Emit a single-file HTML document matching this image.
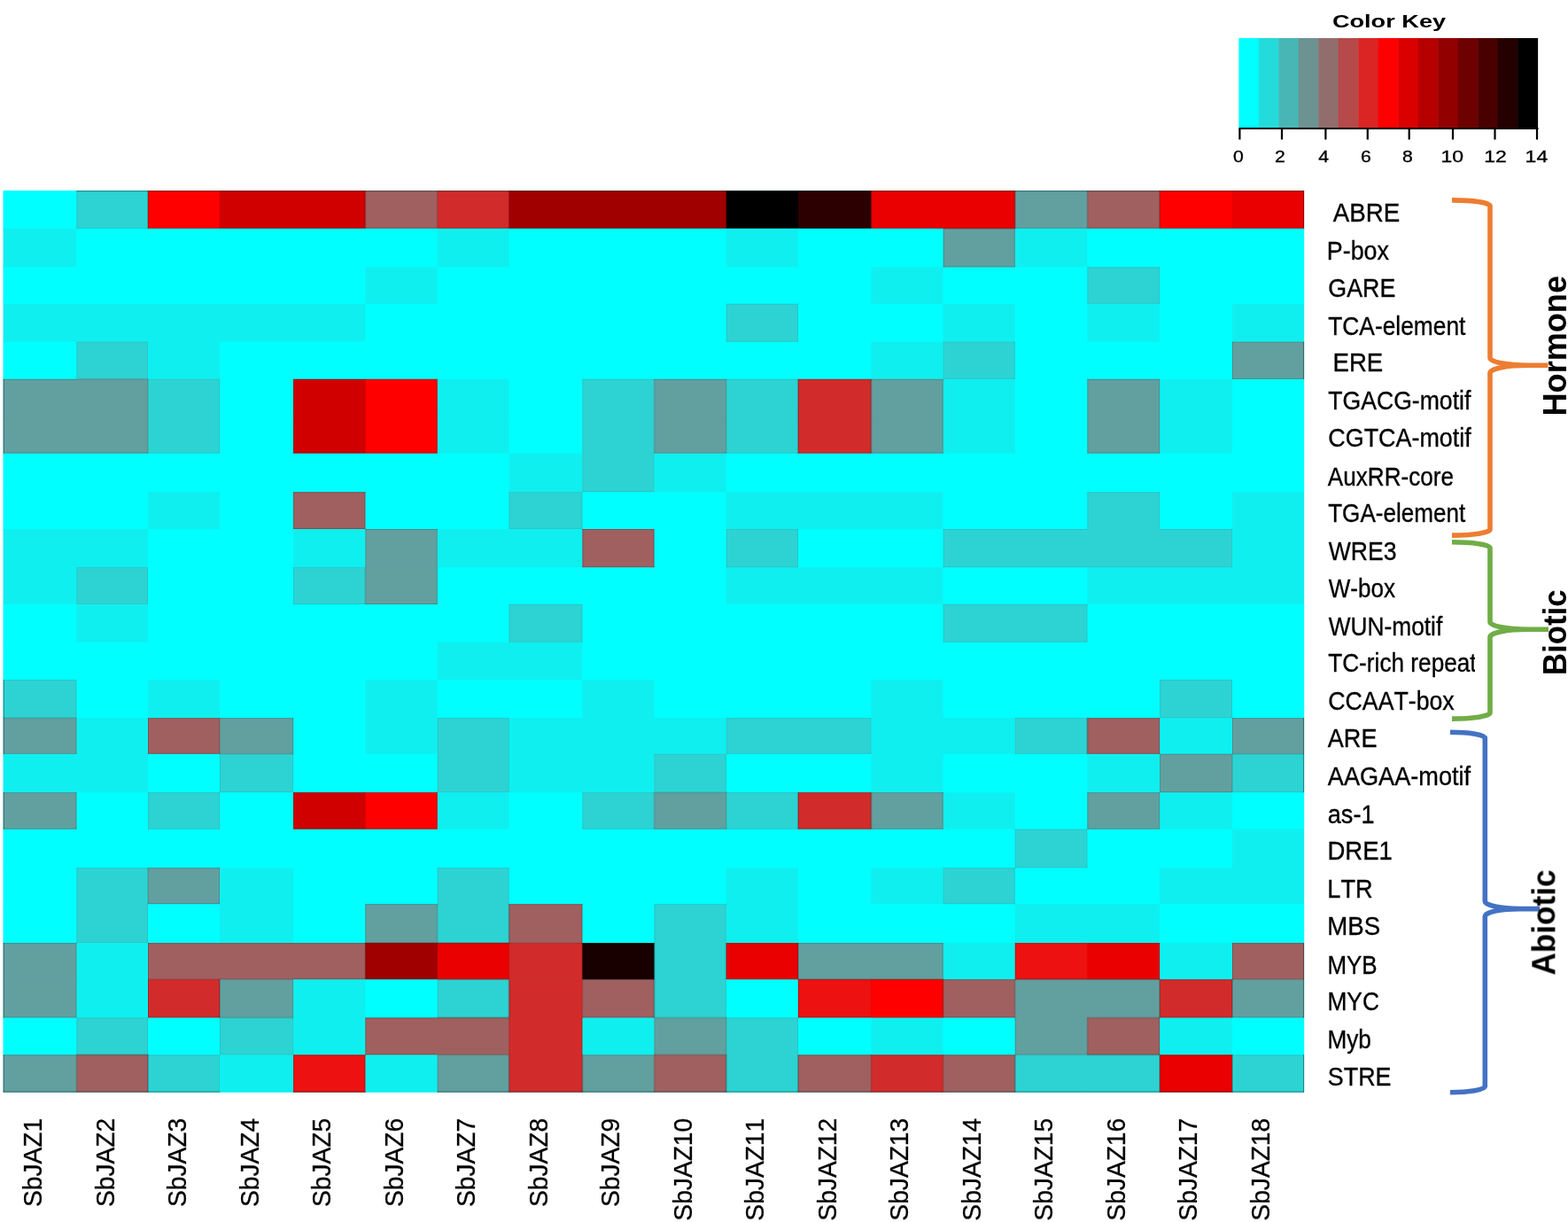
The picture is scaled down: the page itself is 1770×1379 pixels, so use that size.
<!DOCTYPE html>
<html lang="en"><head><meta charset="utf-8"><title>Heatmap</title>
<style>html,body{margin:0;padding:0;background:#fff}body{width:1770px;height:1379px;overflow:hidden}svg{display:block}text{font-family:"Liberation Sans",sans-serif;fill:#000;font-kerning:none}.rl{font-size:29px;stroke:#000;stroke-width:.35px}.cl{font-size:28.6px;stroke:#000;stroke-width:.3px}.kt{font-size:17.7px;stroke:#000;stroke-width:.3px}.grp{font-size:36px;font-weight:bold}</style></head><body>
<svg width="1770" height="1379" viewBox="0 0 1770 1379">
<rect width="1770" height="1379" fill="#fff"/>
<defs><filter id="soft" x="-5%" y="-5%" width="110%" height="110%"><feGaussianBlur stdDeviation="0.45"/></filter></defs>
<g id="key">
<rect x="1398.4" y="43.0" width="22.98" height="101" fill="#00ffff"/>
<rect x="1420.88" y="43.0" width="22.98" height="101" fill="#24dbdb"/>
<rect x="1443.36" y="43.0" width="22.98" height="101" fill="#49b6b6"/>
<rect x="1465.84" y="43.0" width="22.98" height="101" fill="#6d9292"/>
<rect x="1488.32" y="43.0" width="22.98" height="101" fill="#926d6d"/>
<rect x="1510.8" y="43.0" width="22.98" height="101" fill="#b64949"/>
<rect x="1533.28" y="43.0" width="22.98" height="101" fill="#db2424"/>
<rect x="1555.76" y="43.0" width="22.98" height="101" fill="#ff0000"/>
<rect x="1578.24" y="43.0" width="22.98" height="101" fill="#db0000"/>
<rect x="1600.72" y="43.0" width="22.98" height="101" fill="#b60000"/>
<rect x="1623.2" y="43.0" width="22.98" height="101" fill="#920000"/>
<rect x="1645.68" y="43.0" width="22.98" height="101" fill="#6d0000"/>
<rect x="1668.16" y="43.0" width="22.98" height="101" fill="#490000"/>
<rect x="1690.64" y="43.0" width="22.98" height="101" fill="#240000"/>
<rect x="1713.12" y="43.0" width="22.98" height="101" fill="#000000"/>
<rect x="1398.4" y="144" width="338.1" height="2" fill="#000"/>
<rect x="1398.3" y="145" width="2.2" height="12.5" fill="#000"/>
<text class="kt" text-anchor="middle" transform="translate(1398,183) scale(1.2,1)">0</text>
<rect x="1445.9" y="145" width="2.2" height="12.5" fill="#000"/>
<text class="kt" text-anchor="middle" transform="translate(1445,183) scale(1.2,1)">2</text>
<rect x="1495.3" y="145" width="2.2" height="12.5" fill="#000"/>
<text class="kt" text-anchor="middle" transform="translate(1494.2,183) scale(1.2,1)">4</text>
<rect x="1542.7" y="145" width="2.2" height="12.5" fill="#000"/>
<text class="kt" text-anchor="middle" transform="translate(1541.8,183) scale(1.2,1)">6</text>
<rect x="1589.6" y="145" width="2.2" height="12.5" fill="#000"/>
<text class="kt" text-anchor="middle" transform="translate(1589,183) scale(1.2,1)">8</text>
<rect x="1638.9" y="145" width="2.2" height="12.5" fill="#000"/>
<text class="kt" text-anchor="middle" transform="translate(1639.2,183) scale(1.3,1)">10</text>
<rect x="1686.4" y="145" width="2.2" height="12.5" fill="#000"/>
<text class="kt" text-anchor="middle" transform="translate(1688.1,183) scale(1.3,1)">12</text>
<rect x="1733.9" y="145" width="2.2" height="12.5" fill="#000"/>
<text class="kt" text-anchor="middle" transform="translate(1734.4,183) scale(1.3,1)">14</text>
<text text-anchor="middle" transform="translate(1568,31.2) scale(1.345,1)" style="font-size:20.2px;font-weight:bold">Color Key</text>
</g>
<g id="heat">
<rect x="3.7" y="215.2" width="1468.4" height="1017.4" fill="#00ffff"/>
<rect x="3.7" y="215.2" width="83.4" height="43.3" fill="#00ffff"/>
<rect x="86.4" y="215.2" width="81.3" height="43.3" fill="#2dd3d3"/>
<rect x="167" y="215.2" width="81.7" height="43.3" fill="#ff0000"/>
<rect x="248" y="215.2" width="165.1" height="43.3" fill="#d00000"/>
<rect x="412.4" y="215.2" width="82" height="43.3" fill="#a06060"/>
<rect x="493.7" y="215.2" width="81.6" height="43.3" fill="#d22b2b"/>
<rect x="574.6" y="215.2" width="245.9" height="43.3" fill="#a00000"/>
<rect x="819.8" y="215.2" width="81.8" height="43.3" fill="#000000"/>
<rect x="900.9" y="215.2" width="83.2" height="43.3" fill="#2c0000"/>
<rect x="983.4" y="215.2" width="163.1" height="43.3" fill="#ea0000"/>
<rect x="1145.8" y="215.2" width="82.3" height="43.3" fill="#62a0a0"/>
<rect x="1227.4" y="215.2" width="82.4" height="43.3" fill="#a06060"/>
<rect x="1309.1" y="215.2" width="82.6" height="43.3" fill="#ff0000"/>
<rect x="1391" y="215.2" width="81.1" height="43.3" fill="#ea0000"/>
<rect x="3.7" y="257.8" width="83.4" height="44.3" fill="#10efef"/>
<rect x="86.4" y="257.8" width="408" height="44.3" fill="#00ffff"/>
<rect x="493.7" y="257.8" width="81.6" height="44.3" fill="#10efef"/>
<rect x="574.6" y="257.8" width="245.9" height="44.3" fill="#00ffff"/>
<rect x="819.8" y="257.8" width="81.8" height="44.3" fill="#10efef"/>
<rect x="900.9" y="257.8" width="164.5" height="44.3" fill="#00ffff"/>
<rect x="1064.7" y="257.8" width="81.8" height="44.3" fill="#62a0a0"/>
<rect x="1145.8" y="257.8" width="82.3" height="44.3" fill="#10efef"/>
<rect x="1227.4" y="257.8" width="244.7" height="44.3" fill="#00ffff"/>
<rect x="3.7" y="301.4" width="409.4" height="42.1" fill="#00ffff"/>
<rect x="412.4" y="301.4" width="82" height="42.1" fill="#10efef"/>
<rect x="493.7" y="301.4" width="490.4" height="42.1" fill="#00ffff"/>
<rect x="983.4" y="301.4" width="82" height="42.1" fill="#10efef"/>
<rect x="1064.7" y="301.4" width="163.4" height="42.1" fill="#00ffff"/>
<rect x="1227.4" y="301.4" width="82.4" height="42.1" fill="#2dd3d3"/>
<rect x="1309.1" y="301.4" width="163" height="42.1" fill="#00ffff"/>
<rect x="3.7" y="342.8" width="409.4" height="43.6" fill="#10efef"/>
<rect x="412.4" y="342.8" width="408.1" height="43.6" fill="#00ffff"/>
<rect x="819.8" y="342.8" width="81.8" height="43.6" fill="#2dd3d3"/>
<rect x="900.9" y="342.8" width="164.5" height="43.6" fill="#00ffff"/>
<rect x="1064.7" y="342.8" width="81.8" height="43.6" fill="#10efef"/>
<rect x="1145.8" y="342.8" width="82.3" height="43.6" fill="#00ffff"/>
<rect x="1227.4" y="342.8" width="82.4" height="43.6" fill="#10efef"/>
<rect x="1309.1" y="342.8" width="82.6" height="43.6" fill="#00ffff"/>
<rect x="1391" y="342.8" width="81.1" height="43.6" fill="#10efef"/>
<rect x="3.7" y="385.7" width="83.4" height="42.8" fill="#00ffff"/>
<rect x="86.4" y="385.7" width="81.3" height="42.8" fill="#2dd3d3"/>
<rect x="167" y="385.7" width="81.7" height="42.8" fill="#10efef"/>
<rect x="248" y="385.7" width="736.1" height="42.8" fill="#00ffff"/>
<rect x="983.4" y="385.7" width="82" height="42.8" fill="#10efef"/>
<rect x="1064.7" y="385.7" width="81.8" height="42.8" fill="#2dd3d3"/>
<rect x="1145.8" y="385.7" width="245.9" height="42.8" fill="#00ffff"/>
<rect x="1391" y="385.7" width="81.1" height="42.8" fill="#62a0a0"/>
<rect x="3.7" y="427.8" width="164" height="42.6" fill="#62a0a0"/>
<rect x="167" y="427.8" width="81.7" height="42.6" fill="#2dd3d3"/>
<rect x="248" y="427.8" width="83.8" height="42.6" fill="#00ffff"/>
<rect x="331.1" y="427.8" width="82" height="42.6" fill="#d00000"/>
<rect x="412.4" y="427.8" width="82" height="42.6" fill="#ff0000"/>
<rect x="493.7" y="427.8" width="81.6" height="42.6" fill="#10efef"/>
<rect x="574.6" y="427.8" width="83.5" height="42.6" fill="#00ffff"/>
<rect x="657.4" y="427.8" width="81.8" height="42.6" fill="#2dd3d3"/>
<rect x="738.5" y="427.8" width="82" height="42.6" fill="#62a0a0"/>
<rect x="819.8" y="427.8" width="81.8" height="42.6" fill="#2dd3d3"/>
<rect x="900.9" y="427.8" width="83.2" height="42.6" fill="#d22b2b"/>
<rect x="983.4" y="427.8" width="82" height="42.6" fill="#62a0a0"/>
<rect x="1064.7" y="427.8" width="81.8" height="42.6" fill="#10efef"/>
<rect x="1145.8" y="427.8" width="82.3" height="42.6" fill="#00ffff"/>
<rect x="1227.4" y="427.8" width="82.4" height="42.6" fill="#62a0a0"/>
<rect x="1309.1" y="427.8" width="82.6" height="42.6" fill="#10efef"/>
<rect x="1391" y="427.8" width="81.1" height="42.6" fill="#00ffff"/>
<rect x="3.7" y="469.7" width="164" height="42.6" fill="#62a0a0"/>
<rect x="167" y="469.7" width="81.7" height="42.6" fill="#2dd3d3"/>
<rect x="248" y="469.7" width="83.8" height="42.6" fill="#00ffff"/>
<rect x="331.1" y="469.7" width="82" height="42.6" fill="#d00000"/>
<rect x="412.4" y="469.7" width="82" height="42.6" fill="#ff0000"/>
<rect x="493.7" y="469.7" width="81.6" height="42.6" fill="#10efef"/>
<rect x="574.6" y="469.7" width="83.5" height="42.6" fill="#00ffff"/>
<rect x="657.4" y="469.7" width="81.8" height="42.6" fill="#2dd3d3"/>
<rect x="738.5" y="469.7" width="82" height="42.6" fill="#62a0a0"/>
<rect x="819.8" y="469.7" width="81.8" height="42.6" fill="#2dd3d3"/>
<rect x="900.9" y="469.7" width="83.2" height="42.6" fill="#d22b2b"/>
<rect x="983.4" y="469.7" width="82" height="42.6" fill="#62a0a0"/>
<rect x="1064.7" y="469.7" width="81.8" height="42.6" fill="#10efef"/>
<rect x="1145.8" y="469.7" width="82.3" height="42.6" fill="#00ffff"/>
<rect x="1227.4" y="469.7" width="82.4" height="42.6" fill="#62a0a0"/>
<rect x="1309.1" y="469.7" width="82.6" height="42.6" fill="#10efef"/>
<rect x="1391" y="469.7" width="81.1" height="42.6" fill="#00ffff"/>
<rect x="3.7" y="511.6" width="571.6" height="44.3" fill="#00ffff"/>
<rect x="574.6" y="511.6" width="83.5" height="44.3" fill="#10efef"/>
<rect x="657.4" y="511.6" width="81.8" height="44.3" fill="#2dd3d3"/>
<rect x="738.5" y="511.6" width="82" height="44.3" fill="#10efef"/>
<rect x="819.8" y="511.6" width="652.3" height="44.3" fill="#00ffff"/>
<rect x="3.7" y="555.2" width="164" height="42.5" fill="#00ffff"/>
<rect x="167" y="555.2" width="81.7" height="42.5" fill="#10efef"/>
<rect x="248" y="555.2" width="83.8" height="42.5" fill="#00ffff"/>
<rect x="331.1" y="555.2" width="82" height="42.5" fill="#a06060"/>
<rect x="412.4" y="555.2" width="162.9" height="42.5" fill="#00ffff"/>
<rect x="574.6" y="555.2" width="83.5" height="42.5" fill="#2dd3d3"/>
<rect x="657.4" y="555.2" width="163.1" height="42.5" fill="#00ffff"/>
<rect x="819.8" y="555.2" width="245.6" height="42.5" fill="#10efef"/>
<rect x="1064.7" y="555.2" width="163.4" height="42.5" fill="#00ffff"/>
<rect x="1227.4" y="555.2" width="82.4" height="42.5" fill="#2dd3d3"/>
<rect x="1309.1" y="555.2" width="82.6" height="42.5" fill="#00ffff"/>
<rect x="1391" y="555.2" width="81.1" height="42.5" fill="#10efef"/>
<rect x="3.7" y="597" width="164" height="43.9" fill="#10efef"/>
<rect x="167" y="597" width="164.8" height="43.9" fill="#00ffff"/>
<rect x="331.1" y="597" width="82" height="43.9" fill="#10efef"/>
<rect x="412.4" y="597" width="82" height="43.9" fill="#62a0a0"/>
<rect x="493.7" y="597" width="164.4" height="43.9" fill="#10efef"/>
<rect x="657.4" y="597" width="81.8" height="43.9" fill="#a06060"/>
<rect x="738.5" y="597" width="82" height="43.9" fill="#00ffff"/>
<rect x="819.8" y="597" width="81.8" height="43.9" fill="#2dd3d3"/>
<rect x="900.9" y="597" width="164.5" height="43.9" fill="#00ffff"/>
<rect x="1064.7" y="597" width="327" height="43.9" fill="#2dd3d3"/>
<rect x="1391" y="597" width="81.1" height="43.9" fill="#10efef"/>
<rect x="3.7" y="640.2" width="83.4" height="42.5" fill="#10efef"/>
<rect x="86.4" y="640.2" width="81.3" height="42.5" fill="#2dd3d3"/>
<rect x="167" y="640.2" width="164.8" height="42.5" fill="#00ffff"/>
<rect x="331.1" y="640.2" width="82" height="42.5" fill="#2dd3d3"/>
<rect x="412.4" y="640.2" width="82" height="42.5" fill="#62a0a0"/>
<rect x="493.7" y="640.2" width="326.8" height="42.5" fill="#00ffff"/>
<rect x="819.8" y="640.2" width="245.6" height="42.5" fill="#10efef"/>
<rect x="1064.7" y="640.2" width="163.4" height="42.5" fill="#00ffff"/>
<rect x="1227.4" y="640.2" width="244.7" height="42.5" fill="#10efef"/>
<rect x="3.7" y="682" width="83.4" height="43.4" fill="#00ffff"/>
<rect x="86.4" y="682" width="81.3" height="43.4" fill="#10efef"/>
<rect x="167" y="682" width="408.3" height="43.4" fill="#00ffff"/>
<rect x="574.6" y="682" width="83.5" height="43.4" fill="#2dd3d3"/>
<rect x="657.4" y="682" width="408" height="43.4" fill="#00ffff"/>
<rect x="1064.7" y="682" width="163.4" height="43.4" fill="#2dd3d3"/>
<rect x="1227.4" y="682" width="244.7" height="43.4" fill="#00ffff"/>
<rect x="3.7" y="724.7" width="490.7" height="43.1" fill="#00ffff"/>
<rect x="493.7" y="724.7" width="164.4" height="43.1" fill="#10efef"/>
<rect x="657.4" y="724.7" width="814.7" height="43.1" fill="#00ffff"/>
<rect x="3.7" y="767.1" width="83.4" height="43.8" fill="#2dd3d3"/>
<rect x="86.4" y="767.1" width="81.3" height="43.8" fill="#00ffff"/>
<rect x="167" y="767.1" width="81.7" height="43.8" fill="#10efef"/>
<rect x="248" y="767.1" width="165.1" height="43.8" fill="#00ffff"/>
<rect x="412.4" y="767.1" width="82" height="43.8" fill="#10efef"/>
<rect x="493.7" y="767.1" width="164.4" height="43.8" fill="#00ffff"/>
<rect x="657.4" y="767.1" width="81.8" height="43.8" fill="#10efef"/>
<rect x="738.5" y="767.1" width="245.6" height="43.8" fill="#00ffff"/>
<rect x="983.4" y="767.1" width="82" height="43.8" fill="#10efef"/>
<rect x="1064.7" y="767.1" width="245.1" height="43.8" fill="#00ffff"/>
<rect x="1309.1" y="767.1" width="82.6" height="43.8" fill="#2dd3d3"/>
<rect x="1391" y="767.1" width="81.1" height="43.8" fill="#00ffff"/>
<rect x="3.7" y="810.2" width="83.4" height="41.3" fill="#62a0a0"/>
<rect x="86.4" y="810.2" width="81.3" height="41.3" fill="#10efef"/>
<rect x="167" y="810.2" width="81.7" height="41.3" fill="#a06060"/>
<rect x="248" y="810.2" width="83.8" height="41.3" fill="#62a0a0"/>
<rect x="331.1" y="810.2" width="82" height="41.3" fill="#00ffff"/>
<rect x="412.4" y="810.2" width="82" height="41.3" fill="#10efef"/>
<rect x="493.7" y="810.2" width="81.6" height="41.3" fill="#2dd3d3"/>
<rect x="574.6" y="810.2" width="245.9" height="41.3" fill="#10efef"/>
<rect x="819.8" y="810.2" width="164.3" height="41.3" fill="#2dd3d3"/>
<rect x="983.4" y="810.2" width="163.1" height="41.3" fill="#10efef"/>
<rect x="1145.8" y="810.2" width="82.3" height="41.3" fill="#2dd3d3"/>
<rect x="1227.4" y="810.2" width="82.4" height="41.3" fill="#a06060"/>
<rect x="1309.1" y="810.2" width="82.6" height="41.3" fill="#10efef"/>
<rect x="1391" y="810.2" width="81.1" height="41.3" fill="#62a0a0"/>
<rect x="3.7" y="850.8" width="164" height="44.1" fill="#10efef"/>
<rect x="167" y="850.8" width="81.7" height="44.1" fill="#00ffff"/>
<rect x="248" y="850.8" width="83.8" height="44.1" fill="#2dd3d3"/>
<rect x="331.1" y="850.8" width="163.3" height="44.1" fill="#00ffff"/>
<rect x="493.7" y="850.8" width="81.6" height="44.1" fill="#2dd3d3"/>
<rect x="574.6" y="850.8" width="164.6" height="44.1" fill="#10efef"/>
<rect x="738.5" y="850.8" width="82" height="44.1" fill="#2dd3d3"/>
<rect x="819.8" y="850.8" width="164.3" height="44.1" fill="#00ffff"/>
<rect x="983.4" y="850.8" width="82" height="44.1" fill="#10efef"/>
<rect x="1064.7" y="850.8" width="163.4" height="44.1" fill="#00ffff"/>
<rect x="1227.4" y="850.8" width="82.4" height="44.1" fill="#10efef"/>
<rect x="1309.1" y="850.8" width="82.6" height="44.1" fill="#62a0a0"/>
<rect x="1391" y="850.8" width="81.1" height="44.1" fill="#2dd3d3"/>
<rect x="3.7" y="894.2" width="83.4" height="42.2" fill="#62a0a0"/>
<rect x="86.4" y="894.2" width="81.3" height="42.2" fill="#00ffff"/>
<rect x="167" y="894.2" width="81.7" height="42.2" fill="#2dd3d3"/>
<rect x="248" y="894.2" width="83.8" height="42.2" fill="#00ffff"/>
<rect x="331.1" y="894.2" width="82" height="42.2" fill="#d00000"/>
<rect x="412.4" y="894.2" width="82" height="42.2" fill="#ff0000"/>
<rect x="493.7" y="894.2" width="81.6" height="42.2" fill="#10efef"/>
<rect x="574.6" y="894.2" width="83.5" height="42.2" fill="#00ffff"/>
<rect x="657.4" y="894.2" width="81.8" height="42.2" fill="#2dd3d3"/>
<rect x="738.5" y="894.2" width="82" height="42.2" fill="#62a0a0"/>
<rect x="819.8" y="894.2" width="81.8" height="42.2" fill="#2dd3d3"/>
<rect x="900.9" y="894.2" width="83.2" height="42.2" fill="#d22b2b"/>
<rect x="983.4" y="894.2" width="82" height="42.2" fill="#62a0a0"/>
<rect x="1064.7" y="894.2" width="81.8" height="42.2" fill="#10efef"/>
<rect x="1145.8" y="894.2" width="82.3" height="42.2" fill="#00ffff"/>
<rect x="1227.4" y="894.2" width="82.4" height="42.2" fill="#62a0a0"/>
<rect x="1309.1" y="894.2" width="82.6" height="42.2" fill="#10efef"/>
<rect x="1391" y="894.2" width="81.1" height="42.2" fill="#00ffff"/>
<rect x="3.7" y="935.7" width="1142.8" height="44.3" fill="#00ffff"/>
<rect x="1145.8" y="935.7" width="82.3" height="44.3" fill="#2dd3d3"/>
<rect x="1227.4" y="935.7" width="164.3" height="44.3" fill="#00ffff"/>
<rect x="1391" y="935.7" width="81.1" height="44.3" fill="#10efef"/>
<rect x="3.7" y="979.3" width="83.4" height="41.6" fill="#00ffff"/>
<rect x="86.4" y="979.3" width="81.3" height="41.6" fill="#2dd3d3"/>
<rect x="167" y="979.3" width="81.7" height="41.6" fill="#62a0a0"/>
<rect x="248" y="979.3" width="83.8" height="41.6" fill="#10efef"/>
<rect x="331.1" y="979.3" width="163.3" height="41.6" fill="#00ffff"/>
<rect x="493.7" y="979.3" width="81.6" height="41.6" fill="#2dd3d3"/>
<rect x="574.6" y="979.3" width="245.9" height="41.6" fill="#00ffff"/>
<rect x="819.8" y="979.3" width="81.8" height="41.6" fill="#10efef"/>
<rect x="900.9" y="979.3" width="83.2" height="41.6" fill="#00ffff"/>
<rect x="983.4" y="979.3" width="82" height="41.6" fill="#10efef"/>
<rect x="1064.7" y="979.3" width="81.8" height="41.6" fill="#2dd3d3"/>
<rect x="1145.8" y="979.3" width="164" height="41.6" fill="#00ffff"/>
<rect x="1309.1" y="979.3" width="163" height="41.6" fill="#10efef"/>
<rect x="3.7" y="1020.2" width="83.4" height="44.6" fill="#00ffff"/>
<rect x="86.4" y="1020.2" width="81.3" height="44.6" fill="#2dd3d3"/>
<rect x="167" y="1020.2" width="81.7" height="44.6" fill="#00ffff"/>
<rect x="248" y="1020.2" width="83.8" height="44.6" fill="#10efef"/>
<rect x="331.1" y="1020.2" width="82" height="44.6" fill="#00ffff"/>
<rect x="412.4" y="1020.2" width="82" height="44.6" fill="#62a0a0"/>
<rect x="493.7" y="1020.2" width="81.6" height="44.6" fill="#2dd3d3"/>
<rect x="574.6" y="1020.2" width="83.5" height="44.6" fill="#a06060"/>
<rect x="657.4" y="1020.2" width="81.8" height="44.6" fill="#00ffff"/>
<rect x="738.5" y="1020.2" width="82" height="44.6" fill="#2dd3d3"/>
<rect x="819.8" y="1020.2" width="81.8" height="44.6" fill="#10efef"/>
<rect x="900.9" y="1020.2" width="245.6" height="44.6" fill="#00ffff"/>
<rect x="1145.8" y="1020.2" width="164" height="44.6" fill="#10efef"/>
<rect x="1309.1" y="1020.2" width="163" height="44.6" fill="#00ffff"/>
<rect x="3.7" y="1064.1" width="83.4" height="41.8" fill="#62a0a0"/>
<rect x="86.4" y="1064.1" width="81.3" height="41.8" fill="#10efef"/>
<rect x="167" y="1064.1" width="246.1" height="41.8" fill="#a06060"/>
<rect x="412.4" y="1064.1" width="82" height="41.8" fill="#a00000"/>
<rect x="493.7" y="1064.1" width="81.6" height="41.8" fill="#ea0000"/>
<rect x="574.6" y="1064.1" width="83.5" height="41.8" fill="#d22b2b"/>
<rect x="657.4" y="1064.1" width="81.8" height="41.8" fill="#180000"/>
<rect x="738.5" y="1064.1" width="82" height="41.8" fill="#2dd3d3"/>
<rect x="819.8" y="1064.1" width="81.8" height="41.8" fill="#ea0000"/>
<rect x="900.9" y="1064.1" width="164.5" height="41.8" fill="#62a0a0"/>
<rect x="1064.7" y="1064.1" width="81.8" height="41.8" fill="#10efef"/>
<rect x="1145.8" y="1064.1" width="82.3" height="41.8" fill="#ee1111"/>
<rect x="1227.4" y="1064.1" width="82.4" height="41.8" fill="#ea0000"/>
<rect x="1309.1" y="1064.1" width="82.6" height="41.8" fill="#10efef"/>
<rect x="1391" y="1064.1" width="81.1" height="41.8" fill="#a06060"/>
<rect x="3.7" y="1105.2" width="83.4" height="43.9" fill="#62a0a0"/>
<rect x="86.4" y="1105.2" width="81.3" height="43.9" fill="#10efef"/>
<rect x="167" y="1105.2" width="81.7" height="43.9" fill="#d22b2b"/>
<rect x="248" y="1105.2" width="83.8" height="43.9" fill="#62a0a0"/>
<rect x="331.1" y="1105.2" width="82" height="43.9" fill="#10efef"/>
<rect x="412.4" y="1105.2" width="82" height="43.9" fill="#00ffff"/>
<rect x="493.7" y="1105.2" width="81.6" height="43.9" fill="#2dd3d3"/>
<rect x="574.6" y="1105.2" width="83.5" height="43.9" fill="#d22b2b"/>
<rect x="657.4" y="1105.2" width="81.8" height="43.9" fill="#a06060"/>
<rect x="738.5" y="1105.2" width="82" height="43.9" fill="#2dd3d3"/>
<rect x="819.8" y="1105.2" width="81.8" height="43.9" fill="#00ffff"/>
<rect x="900.9" y="1105.2" width="83.2" height="43.9" fill="#ee1111"/>
<rect x="983.4" y="1105.2" width="82" height="43.9" fill="#ff0000"/>
<rect x="1064.7" y="1105.2" width="81.8" height="43.9" fill="#a06060"/>
<rect x="1145.8" y="1105.2" width="164" height="43.9" fill="#62a0a0"/>
<rect x="1309.1" y="1105.2" width="82.6" height="43.9" fill="#d22b2b"/>
<rect x="1391" y="1105.2" width="81.1" height="43.9" fill="#62a0a0"/>
<rect x="3.7" y="1148.4" width="83.4" height="42.6" fill="#00ffff"/>
<rect x="86.4" y="1148.4" width="81.3" height="42.6" fill="#2dd3d3"/>
<rect x="167" y="1148.4" width="81.7" height="42.6" fill="#00ffff"/>
<rect x="248" y="1148.4" width="83.8" height="42.6" fill="#2dd3d3"/>
<rect x="331.1" y="1148.4" width="82" height="42.6" fill="#10efef"/>
<rect x="412.4" y="1148.4" width="162.9" height="42.6" fill="#a06060"/>
<rect x="574.6" y="1148.4" width="83.5" height="42.6" fill="#d22b2b"/>
<rect x="657.4" y="1148.4" width="81.8" height="42.6" fill="#10efef"/>
<rect x="738.5" y="1148.4" width="82" height="42.6" fill="#62a0a0"/>
<rect x="819.8" y="1148.4" width="81.8" height="42.6" fill="#2dd3d3"/>
<rect x="900.9" y="1148.4" width="83.2" height="42.6" fill="#00ffff"/>
<rect x="983.4" y="1148.4" width="82" height="42.6" fill="#10efef"/>
<rect x="1064.7" y="1148.4" width="81.8" height="42.6" fill="#00ffff"/>
<rect x="1145.8" y="1148.4" width="82.3" height="42.6" fill="#62a0a0"/>
<rect x="1227.4" y="1148.4" width="82.4" height="42.6" fill="#a06060"/>
<rect x="1309.1" y="1148.4" width="82.6" height="42.6" fill="#10efef"/>
<rect x="1391" y="1148.4" width="81.1" height="42.6" fill="#00ffff"/>
<rect x="3.7" y="1190.3" width="83.4" height="42.3" fill="#62a0a0"/>
<rect x="86.4" y="1190.3" width="81.3" height="42.3" fill="#a06060"/>
<rect x="167" y="1190.3" width="81.7" height="42.3" fill="#2dd3d3"/>
<rect x="248" y="1190.3" width="83.8" height="42.3" fill="#10efef"/>
<rect x="331.1" y="1190.3" width="82" height="42.3" fill="#ee1111"/>
<rect x="412.4" y="1190.3" width="82" height="42.3" fill="#10efef"/>
<rect x="493.7" y="1190.3" width="81.6" height="42.3" fill="#62a0a0"/>
<rect x="574.6" y="1190.3" width="83.5" height="42.3" fill="#d22b2b"/>
<rect x="657.4" y="1190.3" width="81.8" height="42.3" fill="#62a0a0"/>
<rect x="738.5" y="1190.3" width="82" height="42.3" fill="#a06060"/>
<rect x="819.8" y="1190.3" width="81.8" height="42.3" fill="#2dd3d3"/>
<rect x="900.9" y="1190.3" width="83.2" height="42.3" fill="#a06060"/>
<rect x="983.4" y="1190.3" width="82" height="42.3" fill="#d22b2b"/>
<rect x="1064.7" y="1190.3" width="81.8" height="42.3" fill="#a06060"/>
<rect x="1145.8" y="1190.3" width="164" height="42.3" fill="#2dd3d3"/>
<rect x="1309.1" y="1190.3" width="82.6" height="42.3" fill="#ea0000"/>
<rect x="1391" y="1190.3" width="81.1" height="42.3" fill="#2dd3d3"/>
<path d="M247.5,215.2V257.8M248.5,215.2V257.8M411.9,427.8V469.7M412.9,427.8V469.7M411.9,469.7V511.6M412.9,469.7V511.6M411.9,894.2V935.7M412.9,894.2V935.7M982.9,1105.2V1148.4M983.9,1105.2V1148.4" fill="none" stroke="#000" stroke-opacity="0.03" stroke-width="1"/>
<path d="M493.2,1064.1V1105.2M494.2,1064.1V1105.2" fill="none" stroke="#000" stroke-opacity="0.04" stroke-width="1"/>
<path d="M1227.4,342.3H1309.1M166.5,385.7V427.8M86.4,386.2H167M1065.2,385.7V427.8M1064.7,386.2H1145.8M1064.7,427.3H1145.8M167,428.3H248M657.9,511.6V555.2M738,511.6V555.2M574.6,555.7H657.4M574.6,596.5H657.4M819.8,597.5H900.9M819.8,639.7H900.9M1227.4,639.7H1309.1M1390.5,597V640.2M1309.1,639.7H1391M86.9,640.2V682M86.4,640.7H167M86.4,681.5H167M331.1,640.7H412.4M574.6,724.2H657.4M1309.1,809.7H1391M494.2,810.2V850.8M574.1,810.2V850.8M820.3,810.2V850.8M982.9,810.2V850.8M1146.3,810.2V850.8M574.1,850.8V894.2M493.7,893.7H574.6M739,850.8V894.2M738.5,851.3H819.8M657.4,894.7H738.5M1065.2,979.3V1020.2M86.4,1063.6H167M819.3,1020.2V1064.1M86.4,1148.9H167M330.6,1148.4V1190.3M248,1189.8H331.1M247.5,1190.3V1232.6" fill="none" stroke="#000" stroke-opacity="0.05" stroke-width="1"/>
<path d="M574.1,1064.1V1105.2M575.1,1064.1V1105.2" fill="none" stroke="#000" stroke-opacity="0.06" stroke-width="1"/>
<path d="M86.9,215.2V257.8M86.4,257.3H167M574.1,215.2V257.8M575.1,215.2V257.8M1227.9,301.4V342.8M1308.6,301.4V342.8M1227.4,301.9H1309.1M820.3,342.8V385.7M900.4,342.8V385.7M819.8,343.3H900.9M819.8,385.2H900.9M86.9,385.7V427.8M1145.3,385.7V427.8M247.5,427.8V469.7M657.9,427.8V469.7M657.4,428.3H738.5M819.8,428.3H900.9M247.5,469.7V511.6M167,511.1H248M657.9,469.7V511.6M819.8,511.1H900.9M657.4,554.7H738.5M575.1,555.2V597M656.9,555.2V597M1227.9,555.2V597M1308.6,555.2V597M1227.4,555.7H1309.1M820.3,597V640.2M900.4,597V640.2M1065.2,597V640.2M1064.7,597.5H1145.8M1064.7,639.7H1145.8M1145.8,597.5H1227.4M1145.8,639.7H1227.4M1309.1,597.5H1391M166.5,640.2V682M331.6,640.2V682M331.1,681.5H412.4M575.1,682V724.7M656.9,682V724.7M574.6,682.5H657.4M1065.2,682V724.7M1064.7,682.5H1145.8M1064.7,724.2H1145.8M1226.9,682V724.7M1145.8,682.5H1227.4M1145.8,724.2H1227.4M85.9,767.1V810.2M3.7,767.6H86.4M1309.6,767.1V810.2M1390.5,767.1V810.2M1309.1,767.6H1391M493.7,810.7H574.6M819.8,810.7H900.9M819.8,850.3H900.9M900.9,810.7H983.4M900.9,850.3H983.4M1145.8,810.7H1227.4M1145.8,850.3H1227.4M248.5,850.8V894.2M330.6,850.8V894.2M248,893.7H331.1M494.2,850.8V894.2M819.3,850.8V894.2M1391,893.7H1472.1M167.5,894.2V935.7M247.5,894.2V935.7M167,894.7H248M167,935.2H248M657.9,894.2V935.7M657.4,935.2H738.5M819.8,894.7H900.9M819.8,935.2H900.9M1146.3,935.7V979.3M1226.9,935.7V979.3M1145.8,936.2H1227.4M1145.8,978.8H1227.4M86.9,979.3V1020.2M86.4,979.8H167M494.2,979.3V1020.2M574.1,979.3V1020.2M493.7,979.8H574.6M1145.3,979.3V1020.2M1064.7,979.8H1145.8M1064.7,1019.7H1145.8M86.9,1020.2V1064.1M166.5,1020.2V1064.1M739,1020.2V1064.1M738.5,1020.7H819.8M494.2,1105.2V1148.4M819.3,1105.2V1148.4M86.9,1148.4V1190.3M166.5,1148.4V1190.3M248.5,1148.4V1190.3M900.4,1148.4V1190.3M819.8,1148.9H900.9M167,1190.8H248M1391,1190.8H1472.1" fill="none" stroke="#000" stroke-opacity="0.07" stroke-width="1"/>
<path d="M493.2,215.2V257.8M494.2,215.2V257.8M819.3,215.2V257.8M820.3,215.2V257.8M86.4,427.3H167M166.5,427.8V469.7M86.4,428.3H167M167.5,427.8V469.7M738,427.8V469.7M739,427.8V469.7M819.3,427.8V469.7M820.3,427.8V469.7M166.5,469.7V511.6M167.5,469.7V511.6M738,469.7V511.6M739,469.7V511.6M819.3,469.7V511.6M820.3,469.7V511.6M411.9,640.2V682M412.9,640.2V682M3.7,809.7H86.4M3.7,810.7H86.4M248,850.3H331.1M1391,850.3H1472.1M248,851.3H331.1M738.5,893.7H819.8M1390.5,850.8V894.2M1391.5,850.8V894.2M1391,851.3H1472.1M738,894.2V935.7M739,894.2V935.7M819.3,894.2V935.7M738.5,894.7H819.8M820.3,894.2V935.7M166.5,979.3V1020.2M167.5,979.3V1020.2M493.2,1020.2V1064.1M494.2,1020.2V1064.1M574.6,1063.6H657.4M167,1104.7H248M574.6,1064.6H657.4M167,1105.7H248M248,1147.9H331.1M656.9,1105.2V1148.4M657.9,1105.2V1148.4M738.5,1147.9H819.8M248,1148.9H331.1M574.1,1148.4V1190.3M575.1,1148.4V1190.3M819.3,1148.4V1190.3M738.5,1148.9H819.8M820.3,1148.4V1190.3M1145.8,1189.8H1227.4M982.9,1190.3V1232.6M983.9,1190.3V1232.6M1064.2,1190.3V1232.6M1065.2,1190.3V1232.6M1145.8,1190.8H1227.4" fill="none" stroke="#000" stroke-opacity="0.09" stroke-width="1"/>
<path d="M982.9,215.2V257.8M983.9,215.2V257.8M1226.9,215.2V257.8M1227.9,215.2V257.8M247.5,810.2V850.8M248.5,810.2V850.8M248,1104.7H331.1M1391,1104.7H1472.1M248,1105.7H331.1M1145.3,1105.2V1148.4M1146.3,1105.2V1148.4M1227.4,1147.9H1309.1M1391,1105.7H1472.1M493.7,1189.8H574.6M738.5,1189.8H819.8M1226.9,1148.4V1190.3M1227.9,1148.4V1190.3M1227.4,1148.9H1309.1M85.9,1190.3V1232.6M86.9,1190.3V1232.6M493.7,1190.8H574.6M738,1190.3V1232.6M739,1190.3V1232.6M738.5,1190.8H819.8" fill="none" stroke="#000" stroke-opacity="0.1" stroke-width="1"/>
<path d="M411.9,1064.1V1105.2M412.9,1064.1V1105.2" fill="none" stroke="#000" stroke-opacity="0.11" stroke-width="1"/>
<path d="M411.9,215.2V257.8M412.9,215.2V257.8M1145.8,257.3H1227.4M1145.3,257.8V301.4M1391,386.2H1472.1M1064.2,427.8V469.7M983.4,428.3H1064.7M1308.6,427.8V469.7M738.5,511.1H819.8M1064.2,469.7V511.6M1308.6,469.7V511.6M412.9,597V640.2M493.2,597V640.2M85.9,810.2V850.8M3.7,850.3H86.4M1391.5,810.2V850.8M1309.6,850.8V894.2M1309.1,851.3H1391M1309.1,893.7H1391M3.7,894.7H86.4M1064.2,894.2V935.7M983.4,894.7H1064.7M1308.6,894.2V935.7M1227.4,894.7H1309.1M247.5,979.3V1020.2M85.9,1064.1V1105.2M1064.2,1064.1V1105.2M85.9,1105.2V1148.4M330.6,1105.2V1148.4M739,1148.4V1190.3M494.2,1190.3V1232.6M657.4,1190.8H738.5" fill="none" stroke="#000" stroke-opacity="0.13" stroke-width="1"/>
<path d="M656.9,1064.1V1105.2M657.9,1064.1V1105.2" fill="none" stroke="#000" stroke-opacity="0.15" stroke-width="1"/>
<path d="M1308.6,215.2V257.8M1309.6,215.2V257.8M1065.2,257.8V301.4M1064.7,300.9H1145.8M1391.5,385.7V427.8M1391,427.3H1472.1M3.7,428.3H86.4M738.5,428.3H819.8M1227.9,427.8V469.7M1227.4,428.3H1309.1M3.7,511.1H86.4M86.4,511.1H167M983.4,511.1H1064.7M1227.9,469.7V511.6M1227.4,511.1H1309.1M412.4,597.5H493.7M493.2,640.2V682M412.4,681.5H493.7M330.6,810.2V850.8M248,810.7H331.1M1391,810.7H1472.1M85.9,894.2V935.7M3.7,935.2H86.4M738.5,935.2H819.8M983.4,935.2H1064.7M1227.9,894.2V935.7M1227.4,935.2H1309.1M167,979.8H248M167,1019.7H248M412.9,1020.2V1064.1M412.4,1020.7H493.7M3.7,1064.6H86.4M900.9,1064.6H983.4M983.4,1064.6H1064.7M3.7,1147.9H86.4M1064.2,1105.2V1148.4M1065.2,1105.2V1148.4M1391,1147.9H1472.1M1146.3,1148.4V1190.3M3.7,1190.8H86.4" fill="none" stroke="#000" stroke-opacity="0.16" stroke-width="1"/>
<path d="M166.5,215.2V257.8M167.5,215.2V257.8M167,257.3H248M248,257.3H331.1M331.1,257.3H412.4M412.4,257.3H493.7M493.7,257.3H574.6M574.6,257.3H657.4M657.4,257.3H738.5M738.5,257.3H819.8M819.8,257.3H900.9M900.9,257.3H983.4M983.4,257.3H1064.7M1145.3,215.2V257.8M1064.7,257.3H1145.8M1146.3,215.2V257.8M1227.4,257.3H1309.1M1309.1,257.3H1391M1391,257.3H1472.1M1064.7,258.3H1145.8M331.6,427.8V469.7M331.1,428.3H412.4M493.2,427.8V469.7M412.4,428.3H493.7M900.4,427.8V469.7M901.4,427.8V469.7M982.9,427.8V469.7M900.9,428.3H983.4M983.9,427.8V469.7M331.6,469.7V511.6M331.1,511.1H412.4M493.2,469.7V511.6M412.4,511.1H493.7M900.4,469.7V511.6M901.4,469.7V511.6M982.9,469.7V511.6M900.9,511.1H983.4M983.9,469.7V511.6M331.6,555.2V597M411.9,555.2V597M331.1,555.7H412.4M331.1,596.5H412.4M657.9,597V640.2M738,597V640.2M657.4,597.5H738.5M657.4,639.7H738.5M167.5,810.2V850.8M167,810.7H248M167,850.3H248M1226.9,810.2V850.8M1227.9,810.2V850.8M1308.6,810.2V850.8M1227.4,810.7H1309.1M1227.4,850.3H1309.1M331.6,894.2V935.7M331.1,894.7H412.4M331.1,935.2H412.4M493.2,894.2V935.7M412.4,894.7H493.7M412.4,935.2H493.7M900.4,894.2V935.7M901.4,894.2V935.7M982.9,894.2V935.7M900.9,894.7H983.4M900.9,935.2H983.4M983.9,894.2V935.7M412.4,1063.6H493.7M574.1,1020.2V1064.1M493.7,1063.6H574.6M575.1,1020.2V1064.1M656.9,1020.2V1064.1M574.6,1020.7H657.4M167.5,1064.1V1105.2M167,1064.6H248M248,1064.6H331.1M331.1,1064.6H412.4M331.1,1104.7H412.4M412.4,1064.6H493.7M412.4,1104.7H493.7M493.7,1064.6H574.6M493.7,1104.7H574.6M738,1064.1V1105.2M657.4,1064.6H738.5M657.4,1104.7H738.5M739,1064.1V1105.2M819.3,1064.1V1105.2M820.3,1064.1V1105.2M900.4,1064.1V1105.2M819.8,1064.6H900.9M819.8,1104.7H900.9M901.4,1064.1V1105.2M900.9,1104.7H983.4M983.4,1104.7H1064.7M1146.3,1064.1V1105.2M1145.8,1064.6H1227.4M1145.8,1104.7H1227.4M1308.6,1064.1V1105.2M1227.4,1064.6H1309.1M1227.4,1104.7H1309.1M1391.5,1064.1V1105.2M1391,1064.6H1472.1M167.5,1105.2V1148.4M247.5,1105.2V1148.4M167,1147.9H248M248.5,1105.2V1148.4M574.1,1105.2V1148.4M493.7,1105.7H574.6M493.7,1147.9H574.6M575.1,1105.2V1148.4M738,1105.2V1148.4M657.4,1105.7H738.5M657.4,1147.9H738.5M739,1105.2V1148.4M901.4,1105.2V1148.4M900.9,1105.7H983.4M900.9,1147.9H983.4M983.4,1105.7H1064.7M983.4,1147.9H1064.7M1064.7,1105.7H1145.8M1064.7,1147.9H1145.8M1145.8,1105.7H1227.4M1308.6,1105.2V1148.4M1227.4,1105.7H1309.1M1309.6,1105.2V1148.4M1390.5,1105.2V1148.4M1309.1,1105.7H1391M1309.1,1147.9H1391M1391.5,1105.2V1148.4M86.4,1189.8H167M412.9,1148.4V1190.3M412.4,1148.9H493.7M412.4,1189.8H493.7M493.7,1148.9H574.6M656.9,1148.4V1190.3M1308.6,1148.4V1190.3M1227.4,1189.8H1309.1M166.5,1190.3V1232.6M86.4,1190.8H167M167.5,1190.3V1232.6M331.6,1190.3V1232.6M411.9,1190.3V1232.6M331.1,1190.8H412.4M574.1,1190.3V1232.6M575.1,1190.3V1232.6M656.9,1190.3V1232.6M657.9,1190.3V1232.6M819.3,1190.3V1232.6M820.3,1190.3V1232.6M900.4,1190.3V1232.6M901.4,1190.3V1232.6M900.9,1190.8H983.4M983.4,1190.8H1064.7M1145.3,1190.3V1232.6M1064.7,1190.8H1145.8M1146.3,1190.3V1232.6M1308.6,1190.3V1232.6M1227.4,1190.8H1309.1M1309.6,1190.3V1232.6M1390.5,1190.3V1232.6M1309.1,1190.8H1391M1391.5,1190.3V1232.6" fill="none" stroke="#000" stroke-opacity="0.18" stroke-width="1"/>
<path d="M86.4,215.7H167M167,215.7H248M248,215.7H331.1M331.1,215.7H412.4M412.4,215.7H493.7M493.7,215.7H574.6M574.6,215.7H657.4M657.4,215.7H738.5M738.5,215.7H819.8M819.8,215.7H900.9M900.9,215.7H983.4M983.4,215.7H1064.7M1064.7,215.7H1145.8M1145.8,215.7H1227.4M1227.4,215.7H1309.1M1309.1,215.7H1391M1471.6,215.2V257.8M1391,215.7H1472.1M1471.6,385.7V427.8M4.2,427.8V469.7M4.2,469.7V511.6M4.2,767.1V810.2M4.2,810.2V850.8M1471.6,810.2V850.8M1471.6,850.8V894.2M4.2,894.2V935.7M4.2,1064.1V1105.2M1471.6,1064.1V1105.2M4.2,1105.2V1148.4M1471.6,1105.2V1148.4M4.2,1190.3V1232.6M3.7,1232.1H86.4M86.4,1232.1H167M167,1232.1H248M331.1,1232.1H412.4M493.7,1232.1H574.6M574.6,1232.1H657.4M657.4,1232.1H738.5M738.5,1232.1H819.8M819.8,1232.1H900.9M900.9,1232.1H983.4M983.4,1232.1H1064.7M1064.7,1232.1H1145.8M1145.8,1232.1H1227.4M1227.4,1232.1H1309.1M1309.1,1232.1H1391M1471.6,1190.3V1232.6M1391,1232.1H1472.1" fill="none" stroke="#000" stroke-opacity="0.4" stroke-width="1"/>
</g>
<clipPath id="rc"><rect x="1480" y="200" width="184.5" height="1050"/></clipPath>
<g id="rowlabels" clip-path="url(#rc)" filter="url(#soft)">
<text class="rl" transform="translate(1504.7,249.8) scale(0.956,1)">ABRE</text>
<text class="rl" transform="translate(1497.8,293) scale(0.927,1)">P-box</text>
<text class="rl" transform="translate(1499.3,334.5) scale(0.925,1)">GARE</text>
<text class="rl" transform="translate(1499.2,377.7) scale(0.909,1)">TCA-element</text>
<text class="rl" transform="translate(1504.5,419.2) scale(0.953,1)">ERE</text>
<text class="rl" transform="translate(1499.2,462) scale(0.918,1)">TGACG-motif</text>
<text class="rl" transform="translate(1499.3,503.5) scale(0.928,1)">CGTCA-motif</text>
<text class="rl" transform="translate(1498.8,547.6) scale(0.901,1)">AuxRR-core</text>
<text class="rl" transform="translate(1499.2,589.1) scale(0.899,1)">TGA-element</text>
<text class="rl" transform="translate(1499.7,631.6) scale(0.918,1)">WRE3</text>
<text class="rl" transform="translate(1499.7,673.6) scale(0.898,1)">W-box</text>
<text class="rl" transform="translate(1499.7,716.9) scale(0.907,1)">WUN-motif</text>
<text class="rl" transform="translate(1499.2,758.4) scale(0.904,1)">TC-rich repeat</text>
<text class="rl" transform="translate(1499.3,800.8) scale(0.921,1)">CCAAT-box</text>
<text class="rl" transform="translate(1498.8,843) scale(0.934,1)">ARE</text>
<text class="rl" transform="translate(1498.8,886.2) scale(0.936,1)">AAGAA-motif</text>
<text class="rl" transform="translate(1498.8,929.4) scale(0.935,1)">as-1</text>
<text class="rl" transform="translate(1498.4,970.1) scale(0.95,1)">DRE1</text>
<text class="rl" transform="translate(1498.3,1013.3) scale(0.937,1)">LTR</text>
<text class="rl" transform="translate(1498.3,1055.3) scale(0.952,1)">MBS</text>
<text class="rl" transform="translate(1498.4,1098.6) scale(0.895,1)">MYB</text>
<text class="rl" transform="translate(1498.4,1140.1) scale(0.908,1)">MYC</text>
<text class="rl" transform="translate(1498.4,1183.3) scale(0.902,1)">Myb</text>
<text class="rl" transform="translate(1498.8,1224.8) scale(0.927,1)">STRE</text>
</g>
<g id="collabels" filter="url(#soft)">
<text class="cl" text-anchor="end" transform="translate(47,1261.8) rotate(-90) scale(0.985,1)">SbJAZ1</text>
<text class="cl" text-anchor="end" transform="translate(128.5,1261.8) rotate(-90) scale(0.985,1)">SbJAZ2</text>
<text class="cl" text-anchor="end" transform="translate(210,1261.8) rotate(-90) scale(0.985,1)">SbJAZ3</text>
<text class="cl" text-anchor="end" transform="translate(291.5,1261.8) rotate(-90) scale(0.985,1)">SbJAZ4</text>
<text class="cl" text-anchor="end" transform="translate(373,1261.8) rotate(-90) scale(0.985,1)">SbJAZ5</text>
<text class="cl" text-anchor="end" transform="translate(454.5,1261.8) rotate(-90) scale(0.985,1)">SbJAZ6</text>
<text class="cl" text-anchor="end" transform="translate(536,1261.8) rotate(-90) scale(0.985,1)">SbJAZ7</text>
<text class="cl" text-anchor="end" transform="translate(617.5,1261.8) rotate(-90) scale(0.985,1)">SbJAZ8</text>
<text class="cl" text-anchor="end" transform="translate(699,1261.8) rotate(-90) scale(0.985,1)">SbJAZ9</text>
<text class="cl" text-anchor="end" transform="translate(780.5,1261.8) rotate(-90) scale(0.985,1)">SbJAZ10</text>
<text class="cl" text-anchor="end" transform="translate(862,1261.8) rotate(-90) scale(0.985,1)">SbJAZ11</text>
<text class="cl" text-anchor="end" transform="translate(943.5,1261.8) rotate(-90) scale(0.985,1)">SbJAZ12</text>
<text class="cl" text-anchor="end" transform="translate(1025,1261.8) rotate(-90) scale(0.985,1)">SbJAZ13</text>
<text class="cl" text-anchor="end" transform="translate(1106.5,1261.8) rotate(-90) scale(0.985,1)">SbJAZ14</text>
<text class="cl" text-anchor="end" transform="translate(1188,1261.8) rotate(-90) scale(0.985,1)">SbJAZ15</text>
<text class="cl" text-anchor="end" transform="translate(1269.5,1261.8) rotate(-90) scale(0.985,1)">SbJAZ16</text>
<text class="cl" text-anchor="end" transform="translate(1351,1261.8) rotate(-90) scale(0.985,1)">SbJAZ17</text>
<text class="cl" text-anchor="end" transform="translate(1432.5,1261.8) rotate(-90) scale(0.985,1)">SbJAZ18</text>
</g>
<g id="braces">
<path d="M1639,225.9 A43,6.6 0 0 1 1682,232.5 L1682,403.8 A43,8.5 0 0 0 1725,412.3 L1747.6,412.3 M1725,412.3 A43,8.5 0 0 0 1682,420.8 L1682,597.5 A43,6.6 0 0 1 1639,604.1" fill="none" stroke="#ed7d31" stroke-width="5.6" stroke-linejoin="round"/>
<path d="M1639,611.8 A43,6.6 0 0 1 1682,618.4 L1682,701.8 A43,8.5 0 0 0 1725,710.3 L1748,710.3 M1725,710.3 A43,8.5 0 0 0 1682,718.8 L1682,804.5 A43,6.6 0 0 1 1639,811.1" fill="none" stroke="#70ad47" stroke-width="5.6" stroke-linejoin="round"/>
<path d="M1637,826.3 A39.3,6.6 0 0 1 1676.3,832.9 L1676.3,1017.1 A39.3,8.5 0 0 0 1715.6,1025.6 L1738,1025.6 M1715.6,1025.6 A39.3,8.5 0 0 0 1676.3,1034.1 L1676.3,1226.1 A39.3,6.6 0 0 1 1637,1232.7" fill="none" stroke="#4472c4" stroke-width="5.6" stroke-linejoin="round"/>
</g>
<g id="groups" filter="url(#soft)">
<text class="grp" transform="translate(1767.8,469.5) rotate(-90)" textLength="158.5" lengthAdjust="spacingAndGlyphs">Hormone</text>
<text class="grp" transform="translate(1767.8,762) rotate(-90)" textLength="96.5" lengthAdjust="spacingAndGlyphs">Biotic</text>
<text class="grp" transform="translate(1755.4,1100.5) rotate(-90)" textLength="119" lengthAdjust="spacingAndGlyphs">Abiotic</text>
</g>
</svg></body></html>
